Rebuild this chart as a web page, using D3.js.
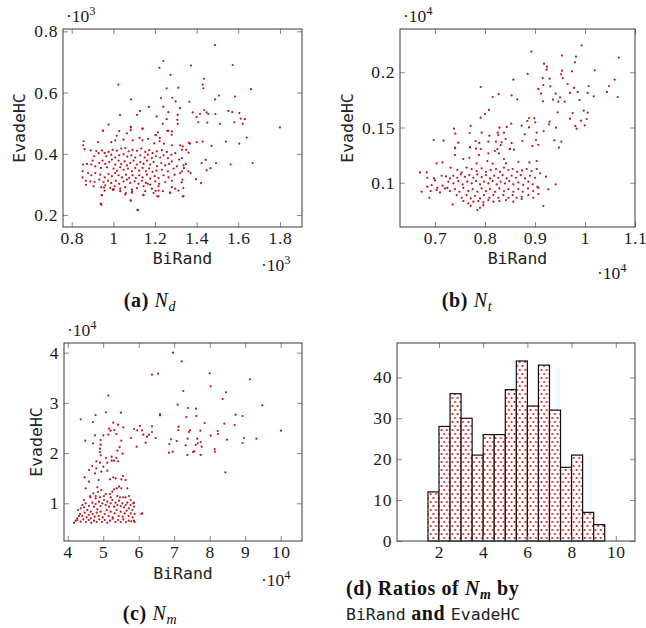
<!DOCTYPE html>
<html>
<head>
<meta charset="utf-8">
<script src="https://cdn.jsdelivr.net/npm/d3@7"></script>
<style>
  body { margin: 0; background: #fff; }
  svg { display: block; }
  .tick text { font-family: "Liberation Serif", "DejaVu Serif", serif; font-size: 17.5px; letter-spacing: 0.6px; fill: #1a1a1a; }
  .tick line { stroke: #888; stroke-width: 1px; }
  .frame { fill: none; stroke: #3a3a3a; stroke-width: 1px; }
  .lab { font-family: "DejaVu Sans Mono", monospace; font-size: 16.5px; fill: #222; letter-spacing: 0; }
  .expo { font-family: "Liberation Serif", serif; font-size: 17.5px; fill: #1a1a1a; }
  .cap { font-family: "Liberation Serif", serif; font-size: 20px; letter-spacing: 0.6px; fill: #111; }
</style>
</head>
<body>
<script>
// N_d : [BiRand, EvadeHC]
var ndPoints = [
  [950,476],[1028,474],[1083,488],[1083,477],[1139,482],[977,495],[1204,461],[1259,475],[1281,473],[1223,452],
  [1363,436],[1065,467],[857,441],[927,438],[990,438],[1009,444],[1049,446],[1092,444],[1126,452],[1140,444],
  [1167,449],[1196,434],[1222,441],[1243,433],[1281,428],[1321,428],[1350,413],[1329,413],[855,428],[862,415],
  [891,411],[918,409],[945,411],[958,403],[977,406],[996,413],[1017,410],[1038,417],[1057,419],[1073,408],
  [1092,413],[1113,410],[1134,417],[1153,406],[1172,412],[1188,402],[1209,408],[1233,412],[1257,406],[1278,397],
  [1297,402],[1329,386],[1361,404],[908,392],[929,402],[966,392],[990,397],[1009,388],[1028,395],[1049,399],
  [1067,391],[1086,395],[1105,388],[1129,395],[1150,388],[1166,397],[1185,386],[1204,392],[1225,388],[1241,395],
  [1262,386],[1281,375],[1316,381],[1348,367],[854,365],[873,367],[894,365],[913,359],[932,370],[948,378],
  [961,367],[980,373],[993,381],[1009,365],[1025,378],[1038,367],[1054,375],[1065,362],[1081,370],[1097,378],
  [1113,365],[1129,373],[1145,367],[1161,378],[1177,365],[1193,373],[1209,359],[1230,370],[1249,362],[1268,367],
  [1305,359],[1337,362],[1361,343],[900,378],[940,354],[969,356],[1001,352],[1017,345],[1033,356],[1049,348],
  [1070,352],[1089,343],[1105,354],[1124,345],[1140,354],[1156,343],[1172,352],[1188,341],[1207,345],[1233,348],
  [1262,343],[1289,352],[1329,343],[852,343],[878,337],[894,330],[913,337],[937,332],[958,323],[977,334],
  [993,327],[1009,337],[1025,330],[1041,323],[1060,332],[1076,321],[1092,330],[1108,321],[1124,330],[1140,323],
  [1161,332],[1177,319],[1198,327],[1217,321],[1241,330],[1265,323],[1294,332],[852,323],[868,312],[889,310],
  [910,308],[932,316],[953,308],[974,312],[990,305],[1012,312],[1028,302],[1049,310],[1065,316],[1081,305],
  [1102,310],[1121,302],[1137,312],[1156,305],[1177,299],[1201,310],[1220,302],[1249,308],[1281,312],[1332,316],
  [868,299],[905,294],[942,291],[961,297],[985,288],[1006,294],[1033,286],[1057,291],[1089,283],[1113,288],
  [1145,294],[1166,302],[1185,286],[1217,294],[1281,291],[1297,286],[958,280],[998,282],[1033,278],[1060,272],
  [1089,273],[1145,265],[1153,278],[1193,272],[1217,280],[1238,278],[1273,272],[1313,280],[1337,261],[945,265],
  [1057,267],[1217,261],[942,234],[1084,247],[1118,216],[1001,283],
  [1488,755],[1240,703],[1221,681],[1373,688],[1573,690],[1275,658],[1024,626],[1435,645],[1429,626],[1432,614],
  [1256,614],[1312,616],[1661,611],[1085,578],[1229,582],[1283,583],[1365,570],[1488,578],[1507,590],[1584,587],
  [1299,571],[1170,553],[1240,554],[1128,540],[1264,536],[1320,549],[1309,527],[1381,535],[1416,530],[1437,543],
  [1448,535],[1032,527],[1114,527],[1208,522],[1256,513],[1237,498],[1307,511],[1309,498],[1408,503],[1451,502],
  [1512,498],[1400,520],[1456,530],[1490,530],[1552,540],[1571,536],[1605,533],[1611,515],[1632,513],[1621,498],
  [1581,503],[1800,486],[1085,486],[1141,482],[1214,470],[1264,475],[1280,462],[1202,461],[1016,459],[950,475],
  [1640,453],[1541,440],[1605,433],[1429,440],[1400,438],[1472,426],[1368,433],[1333,424],[1669,370],[1563,365],
  [1493,370],[1443,380],[1424,370],[1467,353],[1448,346],[1421,304],[1397,317],[1371,337],[1339,353],[1320,337],
  [1328,307],[1336,288],[1333,261],[1272,274],[1211,261],[1202,279],[1115,217],[939,237],[944,265],[1090,276],
  [1144,266],[1083,248],[1000,285],[955,290]
];

// N_t : [BiRand, EvadeHC]
var ntPoints = [
  [9933,2244],[8927,2187],[9540,2151],[9820,2142],[10673,2133],[9800,2090],[9180,2078],[9240,2051],[9233,2024],[9540,2015],
  [9740,2009],[10193,2018],[8853,1985],[9520,1982],[8567,1933],[9153,1948],[9293,1942],[9553,1948],[10593,1933],[9653,1894],
  [7913,1867],[9167,1885],[9307,1873],[10073,1876],[10480,1876],[9780,1858],[9067,1849],[9853,1822],[9700,1813],[10053,1813],
  [10440,1822],[8273,1803],[9120,1806],[9413,1806],[8153,1776],[8533,1791],[9500,1773],[10173,1782],[10653,1776],[8647,1755],
  [9360,1752],[9893,1749],[9160,1737],[9467,1734],[9593,1734],[8080,1659],[8000,1622],[7913,1589],[9453,1637],[9753,1631],
  [9973,1652],[10053,1634],[8880,1586],[8987,1583],[8847,1559],[9293,1553],[9007,1547],[9280,1529],[9700,1580],[9920,1562],
  [10033,1577],[8527,1535],[8733,1517],[8433,1505],[8287,1498],[7713,1514],[7380,1489],[8880,1501],[9420,1498],[9807,1514],
  [9833,1489],[9993,1520],[7933,1453],[7693,1450],[7407,1444],[8253,1453],[8380,1453],[8267,1432],[8087,1426],[8793,1438],
  [9033,1453],[9173,1468],[6973,1387],[7173,1381],[7467,1363],[7813,1378],[7887,1360],[8067,1372],[8220,1372],[8333,1366],
  [8413,1396],[8533,1360],[8747,1378],[9020,1387],[9067,1344],[9387,1384],[9527,1372],[9480,1317],[7400,1311],[7700,1320],
  [7820,1308],[7913,1305],[8247,1305],[8493,1305],[8580,1299],
  [7400,1317],[7700,1323],[8313,1341],[8500,1305],[8947,1332],[7400,1250],[7567,1214],[7687,1226],[7880,1250],[8067,1266],
  [8200,1287],[8280,1266],[8380,1214],[8420,1175],[8667,1190],[8887,1184],[9033,1196],[7033,1175],[7153,1184],[7833,1175],
  [8047,1196],[8153,1172],[6700,1093],[6833,1093],[6847,1045],[6980,1039],[7000,1021],[7133,1063],[7220,1057],[7313,1136],
  [7447,1115],[7533,1093],[7633,1136],[7733,1124],[7833,1105],[7933,1130],[8020,1099],[8113,1115],[8220,1124],[8300,1099],
  [8380,1136],[8467,1115],[8553,1124],[8647,1099],[8740,1111],[8833,1124],[8933,1105],[9033,1124],[7300,1039],[7367,1063],
  [7447,1045],[7513,1075],[7600,1054],[7687,1069],[7767,1045],[7847,1075],[7933,1051],[8020,1069],[8100,1039],[8180,1063],
  [8267,1045],[8353,1069],[8433,1039],[8533,1063],[8620,1045],[8713,1069],[8800,1039],[8900,1063],[9000,1045],[7267,1009],
  [7367,994],[7467,1015],[7553,985],[7647,1009],[7733,994],[7820,1015],[7900,985],[7980,1009],[8067,994],[8153,1015],
  [8233,985],[8313,1009],[8400,994],[8487,1015],[8567,985],[8667,1003],[8767,979],[8867,1009],[8953,985],[9047,963],
  [6933,979],[7047,954],[7153,973],[7247,954],[6847,964],[6913,924],[7033,933],[7100,912],[7200,948],[7300,924],
  [7400,942],[7487,918],[7567,954],[7667,924],[7753,942],[7847,918],[7933,948],[8020,924],[8100,942],[8200,918],
  [8287,948],[8380,924],[8467,942],[8567,918],[8667,942],[8753,918],[8860,948],[8967,924],[9067,954],[6733,918],
  [6887,864],[7433,888],[7533,864],[7633,888],[7713,858],[7800,882],[7900,858],[7980,888],[8087,864],[8167,888],
  [8267,864],[8367,888],[8467,864],[8553,888],[8633,864],[8733,873],[8867,888],[8967,864],[7567,834],[7667,813],
  [7767,828],[7867,834],[7967,822],[8067,843],[8167,828],[8287,834],[8420,843],[8567,828],[8733,852],[7713,791],
  [7900,773],[7967,797],[7353,803],[7847,752],
  [9167,789],[9413,985],[9267,940],[9067,898],[9220,1055],[9100,1085]
];

// N_m : [BiRand, EvadeHC]
var nmPoints = [
  [69663,40006],[72105,38280],[63748,35624],[65438,35823],[79992,35890],[91354,34694],[80274,33300],[51447,31441],[72574,32370],[84593,32105],
  [83654,30777],[94829,29515],[70978,29648],[50789,28121],[47879,27589],[55015,28054],[66001,27523],[66001,27789],[73889,28984],[76143,28851],
  [43653,26726],[47127,26195],[52855,26062],[54170,25664],[55672,25133],[51635,24867],[52104,24469],[53137,24601],[53701,23805],[51447,23672],
  [50038,23539],[47691,23539],[44968,22477],[47127,21945],[49287,22609],[49287,21680],[49099,20883],[49099,20219],[49287,19555],[48066,18360],
  [50789,19024],[52385,19290],[52385,18493],[53701,19024],[54170,18360],[53983,20485],[54640,21215],[55109,22477],[55485,19887],[57832,23008],
  [58677,24801],[59616,24535],[60367,25399],[60930,24535],[61306,23672],[62339,23274],[62903,23672],[63748,25332],[63748,24203],[64780,23008],
  [59429,21282],[61964,22078],[71260,25266],[71166,24602],[74452,24535],[74170,24203],[77363,24469],[78584,25996],[76237,27390],[73420,27191],
  [80274,23473],[82246,24402],[82339,23805],[84124,25863],[87035,25598],[87316,27655],[89288,27390],[89664,23008],[89288,22012],[93138,22875],
  [100087,24469],[84875,22675],[81401,20817],[81495,20286],[77457,22211],[77738,21282],[76613,21945],[76519,22875],[76049,21614],[75673,20352],
  [75298,20219],[77457,19640],[73701,19640],[73232,21548],[73795,22875],[70696,22411],[69100,22742],[68630,21813],[69569,20286],[68537,20086],
  [84405,16169],
  [49099,18095],[51165,18095],[53043,18493],[46940,17431],[48066,16966],[50038,17298],[51165,16501],[46001,16634],[47691,15970],[49475,16302],
  [52855,15173],[51916,14775],[53513,14974],[44780,15173],[48724,14642],[46001,14310],[55578,15439],[55109,14775],[56330,14642],[45062,12982],
  [48348,13181],[47221,11986],[48536,12252],[49475,12650],[50696,11853],[51916,11853],[52574,12318],[53794,12982],[53043,12783],[54452,13314],
  [55109,12982],[56799,12982],[57269,11455],[57738,10658],[58489,9994],[58677,9330],[61025,8002],[55672,11189],[54733,11189],[49099,11189],
  [47879,11455],[46470,11189],
  [41775,6143],[42245,6541],[42714,7006],[43184,7471],[42902,8666],[43653,8998],[44123,9662],[44592,9197],[45062,9994],[45531,8666],
  [46001,9463],[46470,8334],[46940,10127],[47409,9330],[47879,9861],[48348,8799],[48818,10326],[49287,9463],[49757,9994],[50226,10658],
  [50696,9662],[51165,10326],[51635,9330],[52104,9994],[52574,10658],[53043,9330],[53513,10127],[53982,9662],[54452,10525],[54921,9463],
  [55391,9994],[55860,9197],[56330,9662],[56799,10127],[57269,8998],[57738,9662],[58208,8666],[58677,10127],[43465,7869],[44123,7471],
  [44780,8135],[45343,7205],[45907,7670],[46470,7006],[47033,7869],[47597,7338],[48160,8135],[48724,7471],[49287,8334],[49850,7205],
  [50414,7869],[50977,8666],[51541,7471],[52104,8334],[52667,7205],[53231,8002],[53794,8666],[54358,7471],[54921,8334],[55484,7338],
  [56048,8002],[56611,8533],[57175,7471],[57738,8002],[58301,7205],[58865,7869],[42714,6674],[43653,6342],[44404,6807],[45155,6276],
  [45907,6674],[46658,6143],[47409,6541],[48160,6276],[48911,6807],[49663,6276],[50414,6674],[51165,6143],[51916,6541],[52667,6940],
  [53419,6276],[54170,6674],[54921,6276],[55672,6807],[56423,6276],[57175,6541],[57926,6409],[58865,6276],[44592,10658],[46282,11455],
  [47879,10990],[50226,11455],[52104,11189],[53982,11455],[56330,11189],[60743,7869],[58677,6541]
];

// histogram of N_m ratios (BiRand / EvadeHC), bins of 0.5 from 1.0
var ratioBinStart = [1.0,1.5,2.0,2.5,3.0,3.5,4.0,4.5,5.0,5.5,6.0,6.5,7.0,7.5,8.0,8.5,9.0,9.5];
var ratioCounts   = [0,12,28,36,30,21,26,26,37,44,33,43,32,18,21,7,4,0];
var binWidth = 0.5;

var svg = d3.select("body").append("svg")
    .attr("width", 646).attr("height", 628);

var defs = svg.append("defs");
var pat = defs.append("pattern")
    .attr("id", "dots")
    .attr("patternUnits", "userSpaceOnUse")
    .attr("width", 5.4).attr("height", 8);
pat.append("rect").attr("width", 5.4).attr("height", 8).attr("fill", "#fff");
pat.append("circle").attr("cx", 1.4).attr("cy", 2).attr("r", 1.05).attr("fill", "#d81010");
pat.append("circle").attr("cx", 4.1).attr("cy", 6).attr("r", 1.05).attr("fill", "#d81010");

function fmt(div) {
    return function (v) { return String(+(v / div).toFixed(3)); };
}

function frameAxes(g, x, y, box, o) {
    var tl = 5;
    g.append("g").attr("transform", "translate(0," + box.y1 + ")")
        .call(d3.axisBottom(x).tickValues(o.xt).tickSize(-tl).tickPadding(5).tickFormat(o.xf));
    g.append("g").attr("transform", "translate(0," + box.y0 + ")")
        .call(d3.axisTop(x).tickValues(o.xt).tickSize(-tl).tickFormat(""));
    g.append("g").attr("transform", "translate(" + box.x0 + ",0)")
        .call(d3.axisLeft(y).tickValues(o.yt).tickSize(-tl).tickPadding(5).tickFormat(o.yf));
    g.append("g").attr("transform", "translate(" + box.x1 + ",0)")
        .call(d3.axisRight(y).tickValues(o.yt).tickSize(-tl).tickFormat(""));
    g.selectAll(".domain").remove();
    g.append("rect").attr("class", "frame")
        .attr("x", box.x0).attr("y", box.y0)
        .attr("width", box.x1 - box.x0).attr("height", box.y1 - box.y0);
}

function expo(g, xp, yp, power) {
    var t = g.append("text").attr("class", "expo").attr("x", xp).attr("y", yp);
    t.append("tspan").text("\u00b710");
    t.append("tspan").attr("dy", -7).attr("font-size", 12.5).text(power);
}

function scatter(o) {
    var box = o.box;
    var g = svg.append("g");
    var x = d3.scaleLinear().domain(o.xd).range([box.x0, box.x1]);
    var y = d3.scaleLinear().domain(o.yd).range([box.y1, box.y0]);

    g.append("g").selectAll("circle")
        .data(o.data)
        .enter().append("circle")
        .attr("cx", function (d) { return x(d[0]); })
        .attr("cy", function (d) { return y(d[1]); })
        .attr("r", 1.1)
        .attr("fill", "#c0121b");

    frameAxes(g, x, y, box, o);

    g.append("text").attr("class", "lab")
        .attr("x", (box.x0 + box.x1) / 2).attr("y", o.xlabY)
        .attr("text-anchor", "middle").text("BiRand");
    g.append("text").attr("class", "lab")
        .attr("transform", "translate(" + o.ylabX + "," + (box.y0 + box.y1) / 2 + ") rotate(-90)")
        .attr("text-anchor", "middle").text("EvadeHC");

    expo(g, box.x0 + 3, box.y0 - 7, o.power);
    expo(g, o.bexX, o.bexY, o.power);
}

function caption(xc, yb, tag, sub) {
    var t = svg.append("text").attr("class", "cap")
        .attr("x", xc).attr("y", yb).attr("text-anchor", "middle");
    t.append("tspan").attr("font-weight", "bold").text("(" + tag + ") ");
    t.append("tspan").attr("font-style", "italic").text("N");
    t.append("tspan").attr("font-style", "italic").attr("font-size", 14).attr("dy", 4).text(sub);
}

scatter({
    data: ndPoints, power: 3,
    box: {x0: 63, x1: 302, y0: 29, y1: 227},
    xd: [758, 1906], yd: [161, 807.5],
    xt: [800, 1000, 1200, 1400, 1600, 1800], yt: [200, 400, 600, 800],
    xf: fmt(1000), yf: fmt(1000),
    xlabY: 264, ylabX: 25, bexX: 261, bexY: 271
});

scatter({
    data: ntPoints, power: 4,
    box: {x0: 400, x1: 635, y0: 29, y1: 227},
    xd: [6300, 11000], yd: [599, 2392],
    xt: [7000, 8000, 9000, 10000, 11000], yt: [1000, 1500, 2000],
    xf: fmt(10000), yf: fmt(10000),
    xlabY: 264, ylabX: 353, bexX: 597, bexY: 279
});

scatter({
    data: nmPoints, power: 4,
    box: {x0: 64, x1: 302, y0: 343, y1: 541},
    xd: [38960, 106000], yd: [2490, 41930],
    xt: [40000, 50000, 60000, 70000, 80000, 90000, 100000], yt: [10000, 20000, 30000, 40000],
    xf: fmt(10000), yf: fmt(10000),
    xlabY: 579, ylabX: 42, bexX: 261, bexY: 586
});

// histogram panel
(function () {
    var box = {x0: 397, x1: 635, y0: 343, y1: 541};
    var g = svg.append("g");
    var x = d3.scaleLinear().domain([0.1, 10.87]).range([box.x0, box.x1]);
    var y = d3.scaleLinear().domain([0, 48.4]).range([box.y1, box.y0]);

    g.append("g").selectAll("rect")
        .data(ratioCounts)
        .enter().append("rect")
        .attr("x", function (d, i) { return x(ratioBinStart[i]); })
        .attr("width", function (d, i) { return x(ratioBinStart[i] + binWidth) - x(ratioBinStart[i]); })
        .attr("y", function (d) { return y(d); })
        .attr("height", function (d) { return y(0) - y(d); })
        .attr("fill", "url(#dots)")
        .attr("stroke", "#111")
        .attr("stroke-width", 1.2);

    frameAxes(g, x, y, box, {
        xt: [2, 4, 6, 8, 10], yt: [0, 10, 20, 30, 40],
        xf: d3.format("d"), yf: d3.format("d")
    });
})();

caption(150, 307, "a", "d");
caption(467, 307, "b", "t");
caption(150, 620, "c", "m");

// caption (d), two lines, left aligned
var c1 = svg.append("text").attr("class", "cap").attr("x", 346).attr("y", 595);
c1.append("tspan").attr("font-weight", "bold").text("(d) Ratios of ");
c1.append("tspan").attr("font-style", "italic").attr("font-weight", "bold").text("N");
c1.append("tspan").attr("font-style", "italic").attr("font-weight", "bold").attr("font-size", 14).attr("dy", 4).text("m");
c1.append("tspan").attr("font-weight", "bold").attr("dy", -4).text(" by");

var c2 = svg.append("text").attr("class", "cap").attr("x", 346).attr("y", 620);
c2.append("tspan").attr("class", "lab").text("BiRand");
c2.append("tspan").attr("font-weight", "bold").text(" and ");
c2.append("tspan").attr("class", "lab").text("EvadeHC");
</script>
</body>
</html>
